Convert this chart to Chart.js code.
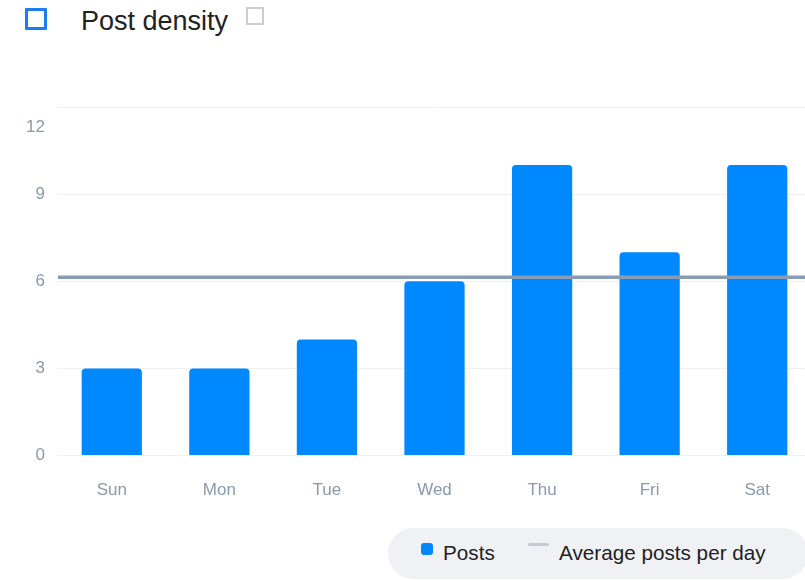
<!DOCTYPE html>
<html>
<head>
<meta charset="utf-8">
<script src="https://cdn.jsdelivr.net/npm/chart.js@4.4.0/dist/chart.umd.min.js"></script>
<style>
  html, body { margin: 0; padding: 0; background: #fff; overflow: hidden; }
  body { width: 805px; height: 580px; position: relative; font-family: "Liberation Sans", Arial, sans-serif; }
  #chartWrap { position: absolute; left: 0; top: 0; width: 811px; height: 527px; }
  .icon-main { position: absolute; left: 25px; top: 8px; width: 16px; height: 16px; border: 3.5px solid #1c7cf2; border-radius: 1px; }
  .title { position: absolute; left: 81px; top: 6px; font-size: 27px; color: #222; }
  .icon-small { position: absolute; left: 246px; top: 7px; width: 14px; height: 14px; border: 2.5px solid #c8cdd6; }
  .legend { position: absolute; left: 388px; top: 528px; width: 420px; height: 51px; border-radius: 26px; background: #f0f1f5; }
  .legend span { position: absolute; font-size: 20.7px; color: #222; top: 13px; }
  .swatch-bar { position: absolute; left: 33px; top: 15px; width: 12px; height: 12px; border-radius: 3px; background: #0088ff; }
  .swatch-line { position: absolute; left: 140px; top: 15px; width: 21px; height: 3px; border-radius: 2px; background: #c5cad3; }
</style>
</head>
<body>
<div class="icon-main"></div>
<div class="title">Post density</div>
<div class="icon-small"></div>
<div id="chartWrap"><canvas id="postChart" width="811" height="527"></canvas></div>
<div class="legend">
  <div class="swatch-bar"></div><span style="left:55px">Posts</span>
  <div class="swatch-line"></div><span style="left:171px">Average posts per day</span>
</div>
<script>
// Chart data
const days = ['Sun', 'Mon', 'Tue', 'Wed', 'Thu', 'Fri', 'Sat'];
const posts = [3, 3, 4, 6, 10, 7, 10];
const yTicks = [0, 3, 6, 9, 12];

const average = posts.reduce((a, b) => a + b, 0) / posts.length;

document.addEventListener('DOMContentLoaded', function() {
    const ctx = document.getElementById('postChart').getContext('2d');
    new Chart(ctx, {
        type: 'bar',
        data: {
            labels: days,
            datasets: [{
                type: 'bar',
                label: 'Posts',
                data: posts,
                backgroundColor: '#0088ff',
                borderRadius: 4,
                borderSkipped: 'start',
                barPercentage: 0.56,
                categoryPercentage: 1,
                grouped: false,
                order: 2
            }, {
                type: 'line',
                label: 'Average posts per day',
                xAxisID: 'x2',
                data: [{ x: -0.5, y: average }, { x: days.length - 0.5, y: average }],
                borderColor: '#8a9bb4',
                borderWidth: 3.5,
                pointRadius: 0,
                order: 1
            }]
        },
        options: {
            responsive: false,
            animation: false,
            layout: { padding: { top: 107, bottom: 1, left: 0, right: 0 } },
            plugins: {
                legend: { display: false },
                tooltip: { enabled: false }
            },
            scales: {
                x: {
                    grid: { display: false, drawTicks: false },
                    border: { display: false },
                    ticks: {
                        color: '#8a99ad',
                        padding: 25,
                        font: { family: 'Liberation Sans', size: 17 }
                    }
                },
                x2: {
                    type: 'linear',
                    display: false,
                    offset: false,
                    min: -0.5,
                    max: days.length - 0.5
                },
                y: {
                    min: yTicks[0],
                    max: yTicks[yTicks.length - 1],
                    afterFit: s => { s.width = 58; },
                    afterBuildTicks: s => { s.ticks = yTicks.map(v => ({ value: v })); },
                    grid: { color: '#eef0f4', lineWidth: 1, drawTicks: false },
                    border: { display: false },
                    ticks: {
                        color: '#8a99ad',
                        padding: 13,
                        font: { family: 'Liberation Sans', size: 17 },
                        // top label sits just under its grid line
                        callback: v => v === yTicks[yTicks.length - 1] ? ['', '', String(v)] : String(v)
                    }
                }
            }
        }
    });
});
</script>
</body>
</html>
